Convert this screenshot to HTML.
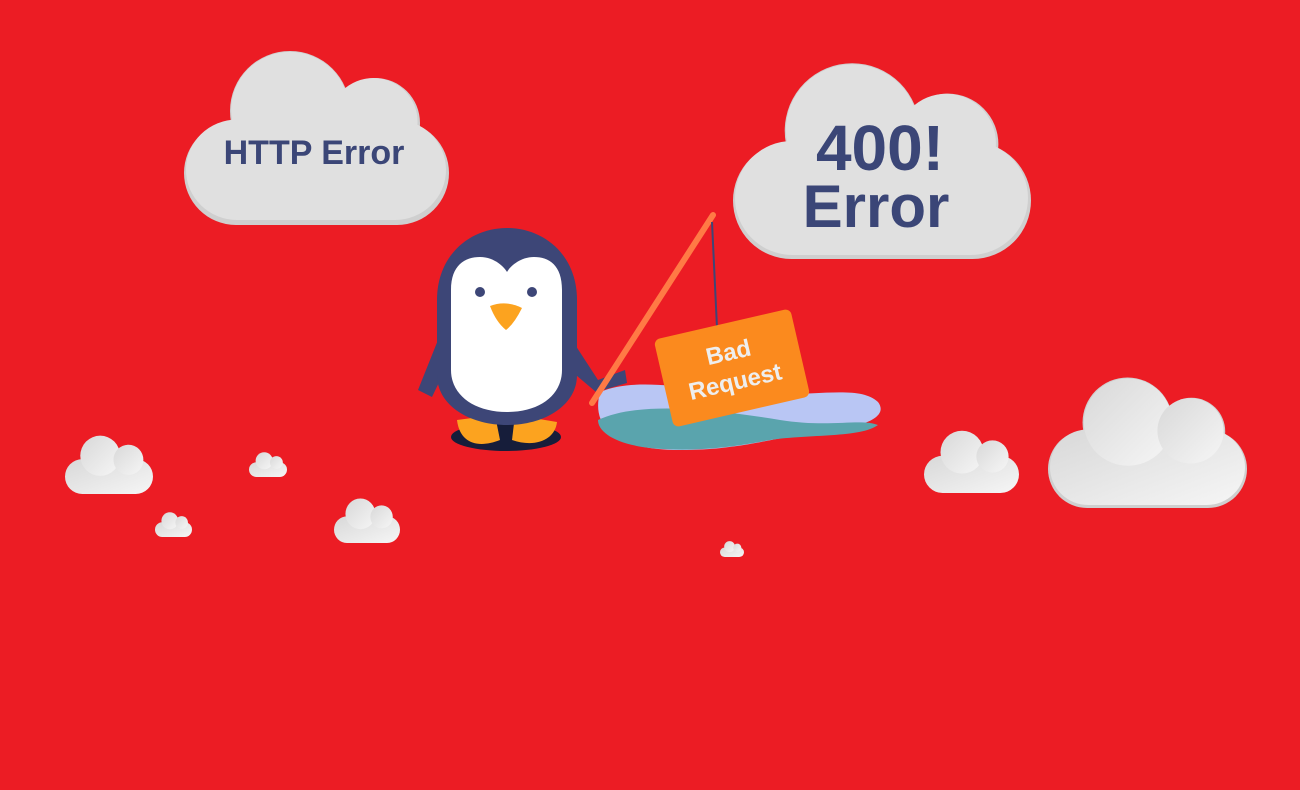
<!DOCTYPE html>
<html><head><style>
html,body{margin:0;padding:0;background:#ec1c24;width:1300px;height:790px;overflow:hidden}
</style></head><body>
<svg width="1300" height="790" viewBox="0 0 1300 790" xmlns="http://www.w3.org/2000/svg">
<defs>
<symbol id="cl" viewBox="0 0 265 176" preserveAspectRatio="none">
<g>
<rect x="0" y="72" width="265" height="104" rx="52"/>
<circle cx="106" cy="62" r="60"/>
<circle cx="191" cy="74" r="45"/>
</g>
</symbol>
<linearGradient id="sg" x1="0" y1="0" x2="1" y2="1">
<stop offset="0" stop-color="#d8d8d8"/><stop offset="1" stop-color="#f6f6f6"/>
</linearGradient>
</defs>
<rect width="1300" height="790" fill="#ec1c24"/>
<!-- big clouds -->
<use href="#cl" x="184" y="49" width="265" height="176" fill="#cfcfcf"/>
<use href="#cl" x="186" y="50" width="260" height="170" fill="#e0e0e0"/>
<use href="#cl" x="733" y="61" width="298" height="198" fill="#cfcfcf"/>
<use href="#cl" x="735" y="62" width="293" height="193" fill="#e0e0e0"/>
<use href="#cl" x="1048" y="376" width="199" height="132" fill="#cfcfcf"/>
<use href="#cl" x="1050" y="377" width="195" height="128" fill="url(#sg)"/>
<!-- small clouds -->
<g fill="url(#sg)">
<use href="#cl" x="65" y="435" width="88" height="59"/>
<use href="#cl" x="249" y="452" width="38" height="25"/>
<use href="#cl" x="155" y="512" width="37" height="25"/>
<use href="#cl" x="334" y="498" width="66" height="45"/>
<use href="#cl" x="924" y="430" width="95" height="63"/>
<use href="#cl" x="720" y="541" width="24" height="16"/>
</g>
<g font-family="Liberation Sans, sans-serif" font-weight="bold" fill="#3b4677" text-anchor="middle">
<text x="314" y="164" font-size="34">HTTP Error</text>
<text x="880" y="170" font-size="64">400!</text>
<text x="876" y="227" font-size="60">Error</text>
</g>
<!-- pond -->
<path d="M600 392 C640 375 700 392 760 394 C820 396 860 385 878 402 C890 418 860 428 820 432 C770 438 740 450 680 450 C620 450 590 430 600 392Z" fill="#b9c6f4"/>
<path d="M598 420 C640 400 720 410 780 420 C830 428 860 418 878 425 C860 438 810 434 770 440 C730 448 690 452 650 448 C615 444 598 432 598 420Z" fill="#5aa4ad"/>
<!-- penguin -->
<ellipse cx="506" cy="437" rx="55" ry="14" fill="#161d3a"/>
<path d="M440 335 L418 390 L432 397 L445 370Z" fill="#3d4677"/>
<path d="M572 340 L598 380 L625 370 L627 383 L596 392 L570 370Z" fill="#3d4677"/>
<path d="M457 420 C460 445 480 448 500 440 L495 415Z" fill="#fca31f"/>
<path d="M515 415 L512 440 C535 448 555 440 557 422Z" fill="#fca31f"/>
<path d="M437 300 C437 255 470 228 507 228 C544 228 577 255 577 300 L577 375 C577 405 545 425 507 425 C469 425 437 405 437 375Z" fill="#3d4677"/>
<path d="M451 290 C451 265 465 257 480 257 C495 257 505 268 507 272 C509 268 519 257 534 257 C549 257 562 265 562 290 L562 370 C562 395 540 412 507 412 C474 412 451 395 451 370Z" fill="#fff"/>
<circle cx="480" cy="292" r="5" fill="#3d4677"/>
<circle cx="532" cy="292" r="5" fill="#3d4677"/>
<path d="M490 306 Q506 300 522 308 Q514 324 506 330 Q496 322 490 306Z" fill="#fca31f"/>
<!-- rod -->
<line x1="592" y1="403" x2="713" y2="215" stroke="#ff7a45" stroke-width="6" stroke-linecap="round"/>
<line x1="712" y1="222" x2="717" y2="328" stroke="#3d4677" stroke-width="2"/>
<!-- sign -->
<g transform="rotate(-13 732 368)">
<rect x="662" y="323" width="140" height="90" rx="6" fill="#fb8a1e"/>
<text x="732" y="360" font-family="Liberation Sans, sans-serif" font-weight="bold" font-size="24" fill="#eeeeee" text-anchor="middle">Bad</text>
<text x="732" y="390" font-family="Liberation Sans, sans-serif" font-weight="bold" font-size="24" fill="#eeeeee" text-anchor="middle">Request</text>
</g>
</svg>
</body></html>
